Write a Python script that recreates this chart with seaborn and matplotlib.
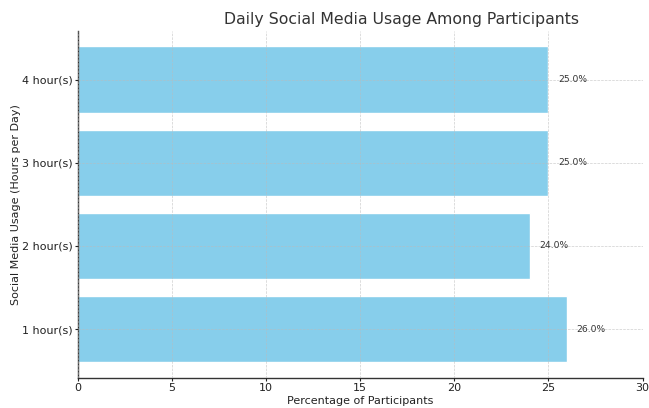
import matplotlib
matplotlib.use("Agg")
import matplotlib.pyplot as plt
import seaborn as sns
import pandas as pd

categories = ["1 hour(s)", "2 hour(s)", "3 hour(s)", "4 hour(s)"]
percentages = [26.0, 24.0, 25.0, 25.0]

df = pd.DataFrame({"usage": categories, "pct": percentages})

sns.set_style("white")
plt.rcParams["font.family"] = ["DejaVu Sans"]

fig, ax = plt.subplots(figsize=(6.49, 4.08), dpi=100)
ax.barh(df["usage"], df["pct"], color="skyblue", height=0.8, zorder=1)

for y, v in enumerate(df["pct"]):
    ax.text(v + 0.5, y, f"{v:.1f}%", va="center", ha="left", fontsize=6.6, color="#333333")

ax.set_xlim(0, 30)
ax.set_xlabel("Percentage of Participants", fontsize=8, color="#222222", labelpad=2)
ax.set_ylabel("Social Media Usage (Hours per Day)", fontsize=8, color="#222222", labelpad=1)
ax.set_title("Daily Social Media Usage Among Participants", fontsize=11.3, color="#333333",
             pad=5, x=0.573)
ax.tick_params(axis="both", labelsize=8, colors="#222222", length=2.5, pad=1.2, left=True, bottom=True)
ax.grid(True, linestyle="--", color="#bbbbbb", linewidth=0.5, alpha=0.7, zorder=2)
ax.set_axisbelow(False)
sns.despine(ax=ax, top=True, right=True)
for s in ("left", "bottom"):
    ax.spines[s].set_color("#333333")
    ax.spines[s].set_linewidth(1.0)

fig.subplots_adjust(left=0.12, right=0.99, top=0.925, bottom=0.073)
fig.savefig("out.png", dpi=100)
